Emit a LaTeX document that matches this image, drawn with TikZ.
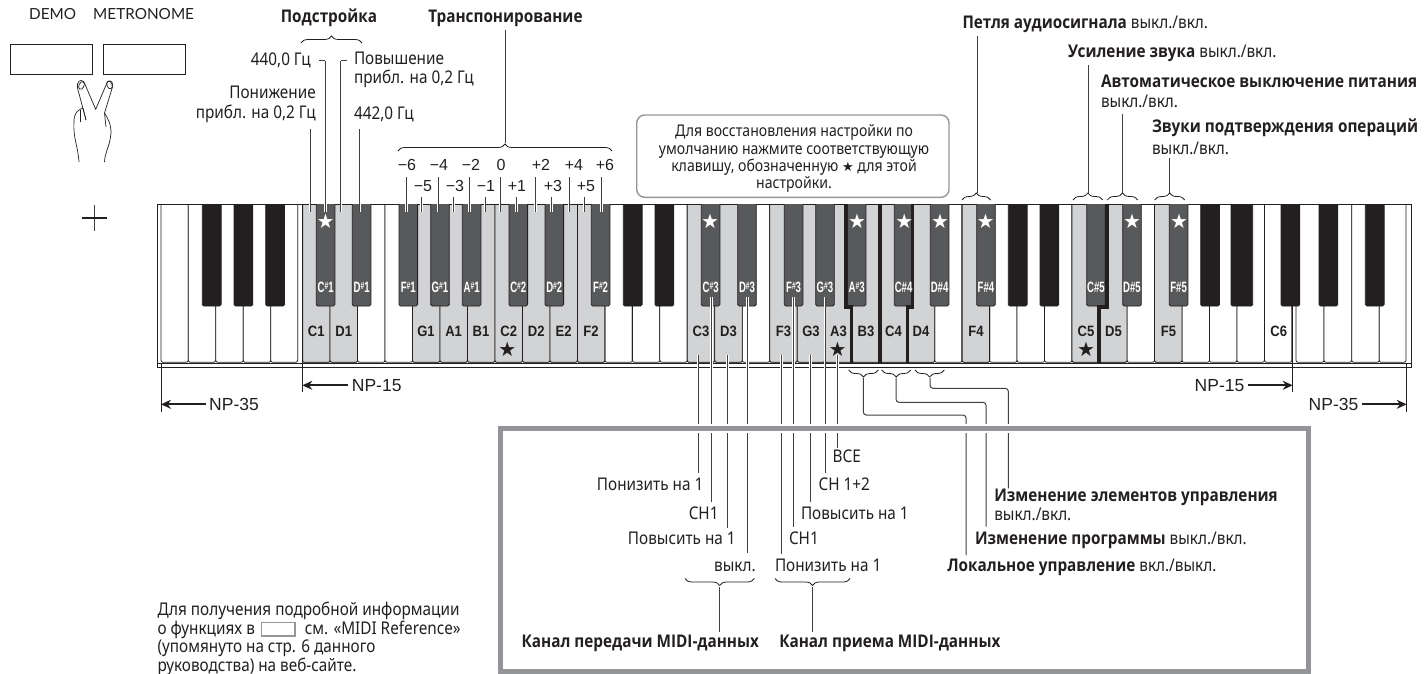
\documentclass[tikz,border=0pt]{standalone}
\usepackage{fontspec}
\usetikzlibrary{arrows.meta,decorations.pathreplacing}
\setmainfont[FakeStretch=0.875]{Noto Sans}
\newfontfamily\opns[FakeStretch=0.875]{Open Sans}
\newcommand{\bd}[1]{{\opns\bfseries #1}}
\newfontfamily\arreg{Liberation Sans}
\newfontfamily\arnar[FakeStretch=0.64]{Liberation Sans}
\newfontfamily\arwhi[FakeStretch=0.87]{Liberation Sans}
\newfontfamily\djv{DejaVu Sans}
\newfontfamily\lat{Lato}
\definecolor{ink}{HTML}{231F20}
\definecolor{lead}{HTML}{404041}
\definecolor{grkey}{HTML}{D1D3D4}
\definecolor{dkkey}{HTML}{58595B}
\definecolor{frm}{HTML}{939598}
\newcommand{\tl}[4]{\node[lab,anchor=base west] (#1) at (#2,#3) {#4};}
\newcommand{\tr}[4]{\node[lab,anchor=base east] (#1) at (#2,#3) {#4};}
\newcommand{\tc}[4]{\node[lab,anchor=base] (#1) at (#2,#3) {#4};}
\newcommand{\lf}[4]{\coordinate (#1a) at (#2,#3); \coordinate (#1b) at (#2,#4); \draw[leader] (#1a) -- (#1b);}
\newcommand{\brU}[4]{\coordinate (#1a) at (#2,#4); \coordinate (#1b) at (#3,#4); \draw[bracestyle] (#1a) -- (#1b);}
\newcommand{\brD}[4]{\coordinate (#1a) at (#3,#4); \coordinate (#1b) at (#2,#4); \draw[bracestyle] (#1a) -- (#1b);}
\newcommand{\shp}[2]{#1\raisebox{2.5pt}{\fontsize{10.5}{10}\selectfont\#}#2}
\tikzset{
  lab/.style={inner sep=0pt,outer sep=0pt,font=\fontsize{17.5}{18}\selectfont,text=ink},
  callab/.style={inner sep=0pt,outer sep=0pt,anchor=base,font=\fontsize{16.1}{17}\selectfont,text=ink},
  leader/.style={draw=lead,line width=1pt,preaction={draw=white,line width=2.6pt}},
  plain/.style={draw=lead,line width=1pt},
  bracestyle/.style={draw=ink,line width=0.8pt,decorate,decoration={brace,amplitude=7pt,aspect=0.5}},
  whitek/.style={draw=ink,line width=0.8pt,fill=white},
  grayk/.style={draw=ink,line width=0.8pt,fill=grkey},
  blackk/.style={draw=ink,line width=0.8pt,fill=ink},
  darkk/.style={draw=ink,line width=0.8pt,fill=dkkey},
  thick key/.style={draw=ink,line width=3.5pt},
  npline/.style={draw=ink,line width=0.9pt},
  nparrow/.style={draw=ink,line width=1.8pt,-{Stealth[length=10pt,width=9pt]}},
  nplab/.style={inner sep=0pt,font=\arreg\fontsize{17.5}{18}\selectfont,text=ink},
  numlab/.style={inner sep=0pt,font=\arreg\fontsize{16}{18}\selectfont,text=ink},
  wlab/.style={inner sep=0pt,font=\arwhi\bfseries\fontsize{15}{15}\selectfont,text=ink},
  blab/.style={inner sep=0pt,font=\arnar\bfseries\fontsize{15}{15}\selectfont,text=white},
  wstar/.style={inner sep=0pt,font=\djv\fontsize{20}{20}\selectfont,text=white},
  kstar/.style={inner sep=0pt,font=\djv\fontsize{20}{20}\selectfont,text=ink},
  boxk/.style={draw=ink,line width=0.9pt},
  hand/.style={draw=ink,line width=0.7pt},
}
\begin{document}
\begin{tikzpicture}[x=1pt,y=-1pt]
\useasboundingbox (0,0) rectangle (1426,674);
% ---------- top-left buttons
\node[inner sep=0pt,font=\lat\fontsize{15.3}{16}\selectfont,text=ink,anchor=base west] (demo) at (29,20) {DEMO};
\node[inner sep=0pt,font=\lat\fontsize{15.3}{16}\selectfont,text=ink,anchor=base west] (metro) at (93,20) {METRONOME};
\draw[boxk] (10.3,44.3) rectangle (92.3,74);
\draw[boxk] (103.3,44.3) rectangle (185.3,74);
% hand
\draw[hand] (86,120) -- (77.5,88) .. controls (76,82) and (81,78) .. (84,82) -- (95.7,109.3) -- (106.5,84) .. controls (108,79) and (113,80) .. (112.8,86) -- (104.5,113) .. controls (110,122) and (112,128) .. (110.5,137) .. controls (109,148) and (105,152) .. (104.5,162);
\draw[hand] (104.5,113) -- (106,127);
\draw[hand] (83,108) .. controls (76,111) and (74,114) .. (74,122) .. controls (73,138) and (78,146) .. (79,162);
\draw[hand] (80,110) -- (80,122);
\draw[hand] (83,108) -- (86,120);
\draw[hand,rotate around={-25:(81.5,85.5)}] (81.5,85.5) ellipse (2.6 and 4);
\draw[hand,rotate around={20:(109.5,85)}] (109.5,85) ellipse (2.6 and 4);
% plus
\coordinate (plt) at (94.3,205); \coordinate (plb) at (94.3,230.7);
\coordinate (pll) at (81.7,217.7); \coordinate (plr) at (107.3,217.7);
\draw[draw=lead,line width=1.6pt] (plt) -- (plb); \draw[draw=ink,line width=1.6pt] (pll) -- (plr);
% ---------- keyboard
\draw[draw=ink,line width=0.9pt,fill=white] (157,204) rectangle (1411,367);
\foreach \l/\r in {161/188.3,188.3/215.7,215.7/243.3,243.3/270.7,270.7/297.7,1296/1324,1324/1351.7,1351.7/1379.3,1379.3/1406}{
  \draw[whitek] (\l,204) [rounded corners=2pt] -- (\l,362.3) -- (\r,362.3) [sharp corners] -- (\r,204);
}
\foreach \n in {0,...,35}{
  \pgfmathsetmacro\l{302.6+27.48*\n}
  \pgfmathsetmacro\r{302.6+27.48*(\n+1)}
  \draw[whitek] (\l,204) [rounded corners=2pt] -- (\l,362.3) -- (\r,362.3) [sharp corners] -- (\r,204);
}
\foreach \n in {0,1,4,5,6,7,8,9,10,14,15,17,18,19,20,21,22,24,28,29,31}{
  \pgfmathsetmacro\l{302.6+27.48*\n}
  \pgfmathsetmacro\r{302.6+27.48*(\n+1)}
  \draw[grayk] (\l,204) [rounded corners=2pt] -- (\l,362.3) -- (\r,362.3) [sharp corners] -- (\r,204);
}
\draw[draw=ink,line width=0.9pt] (157,204) -- (1411,204);
\draw[draw=ink,line width=0.9pt] (157,363.2) -- (1411,363.2);
% black keys
\foreach \x in {202.3,234,265.7,623.3,655,1008.3,1040,1200.7,1281,1319,1365.3}{
  \pgfmathsetmacro\r{\x+18.8}
  \draw[blackk] (\x,204) [rounded corners=1.5pt] -- (\x,306) -- (\r,306) [sharp corners] -- (\r,204);
}
\draw[blackk] (1231,204) [rounded corners=1.5pt] -- (1231,306) -- (1252.7,306) [sharp corners] -- (1252.7,204);
\foreach \x in {316.3,352.3,399,430.7,462.3,509,545,591.3,701.3,737.7,784.3,815.7,847.3,894.3,930.3,976.7,1086.7,1122.7,1169.3}{
  \pgfmathsetmacro\r{\x+18.6}
  \draw[darkk] (\x,204) [rounded corners=1.5pt] -- (\x,306) -- (\r,306) [sharp corners] -- (\r,204);
}
% thick separators
\draw[thick key] (846.2,204) -- (846.2,307) -- (851.7,307) -- (851.7,362.5);
\draw[thick key] (880.2,204) -- (880.2,362.5);
\draw[thick key] (912.3,204) -- (912.3,307) -- (907.5,307) -- (907.5,362.5);
\draw[thick key] (1107,204) -- (1107,307) -- (1099.2,307) -- (1099.2,362.5);
% ---------- NP marks
\coordinate (np15la) at (302.3,204); \coordinate (np15lb) at (302.3,392);
\draw[npline] (np15la) -- (np15lb);
\coordinate (np35la) at (161,363); \coordinate (np35lb) at (161,412);
\draw[npline] (np35la) -- (np35lb);
\coordinate (np15ra) at (1292.7,306); \coordinate (np15rb) at (1292.7,392);
\draw[npline] (np15ra) -- (np15rb);
\coordinate (np35ra) at (1406.7,363); \coordinate (np35rb) at (1406.7,412);
\draw[npline] (np35ra) -- (np35rb);
\node[nplab,anchor=west] (t15l) at (351.7,385.3) {NP-15};
\node[nplab,anchor=west] (t35l) at (209,404.3) {NP-35};
\node[nplab,anchor=east] (t15r) at (1244.5,385.3) {NP-15};
\node[nplab,anchor=east] (t35r) at (1358.5,404.3) {NP-35};
\draw[nparrow] (t15l.west) ++(-4,0) coordinate (a1) -- (a1 -| np15la);
\draw[nparrow] (t35l.west) ++(-3,0) coordinate (a2) -- (a2 -| np35la);
\draw[nparrow] (t15r.east) ++(3.5,0) coordinate (a3) -- (a3 -| np15ra);
\draw[nparrow] (t35r.east) ++(3.5,0) coordinate (a4) -- (a4 -| np35ra);
% ---------- leaders into the keys
\lf{tuA}{310}{129}{212}
\lf{tuB}{325.3}{61}{212}
\lf{tuC}{340.8}{61}{212}
\lf{tuD}{359.8}{129}{212}
\coordinate (tuBt) at (319,61); \draw[plain] (tuBt) -- (tuBa);
\coordinate (tuCt) at (347,61); \draw[plain] (tuCt) -- (tuCa);
\foreach \nm/\x in {m6/406.7,m4/438,m2/469.3,z0/500,p2/535.7,p4/569,p6/601.7}{\lf{\nm}{\x}{177}{212}}
\foreach \nm/\x in {m5/421.7,m3/453.7,m1/485,p1/516.7,p3/551.7,p5/584}{\lf{\nm}{\x}{197}{212}}
\lf{trT}{505}{30}{143}
\lf{lpT}{977}{36}{193}
\lf{usT}{1088}{65}{193}
\lf{apT}{1122}{114}{193}
\lf{znT}{1169.7}{158}{193}
% ---------- lower leaders
\lf{lA}{698}{355}{472.7}
\lf{lB}{711.7}{296.7}{502.3}
\lf{lC}{727.3}{355}{528}
\lf{lD}{747.3}{296.7}{553}
\lf{lE}{781.7}{355}{554}
\lf{lF}{793.3}{296.7}{526.7}
\lf{lG}{810.7}{355}{502.3}
\lf{lH}{825}{296.7}{472.7}
\lf{lI}{837.7}{355}{448.3}
\coordinate (b1t) at (863.3,378); \coordinate (b2t) at (896,378); \coordinate (b3t) at (930,378);
\coordinate (b1e) at (966,555); \coordinate (b2e) at (986,526.7); \coordinate (b3e) at (1008.3,488.3);
\draw[plain,rounded corners=3pt] (b3t) -- (930,388.3) -- (1008.3,388.3) -- (b3e);
\draw[plain,rounded corners=3pt] (b2t) -- (896,402.3) -- (986,402.3) -- (b2e);
\draw[plain,rounded corners=3pt] (b1t) -- (863.3,415) -- (966,415) -- (b1e);
\lf{txL}{719.3}{587}{631.7}
\lf{rxL}{812.7}{587}{631.7}
% frame, with the white gap it cuts through the leaders
\draw[draw=white,line width=9pt] (500,428.5) rectangle (1308.5,671);
\draw[draw=frm,line width=5pt] (500,428.5) rectangle (1308.5,671);
% ---------- braces
\brU{brTu}{301}{362}{43}
\brU{brTr}{398}{612}{151}
\brU{brLp}{962}{990.5}{200}
\brU{brUs}{1073}{1102.7}{200}
\brU{brAp}{1107.3}{1137.7}{200}
\brU{brZn}{1154.7}{1184.7}{200}
\brD{brB3}{848.7}{878.3}{370}
\brD{brC4}{881.7}{910.7}{370}
\brD{brD4}{915}{944.3}{370}
\brD{brTx}{685}{754.3}{578.5}
\brD{brRx}{775}{850}{578.5}
% ---------- key labels
\foreach \nm/\t/\x in {c1/C1/316.3,d1/D1/343.8,g1/G1/426,a1/A1/453.6,b1/B1/481,c2/C2/508.7,d2/D2/536.2,e2/E2/563.7,f2/F2/591,c3/C3/701,d3/D3/728.5,f3/F3/783.5,g3/G3/811,a3/A3/838.5,b3/B3/866,c4/C4/893.5,d4/D4/921,f4/F4/976,c5/C5/1086,d5/D5/1113.5,f5/F5/1168.5,c6/C6/1278.7}{
  \node[wlab] (w\nm) at (\x,331.5) {\t};
}
\foreach \nm/\a/\o/\x in {cs1/C/1/325.6,ds1/D/1/361.6,fs1/F/1/408.3,gs1/G/1/440,as1/A/1/471.6,cs2/C/2/518.3,ds2/D/2/554.3,fs2/F/2/600.6,cs3/C/3/710.6,ds3/D/3/747,fs3/F/3/793.6,gs3/G/3/825,as3/A/3/856.6}{
  \node[blab] (k\nm) at (\x,287) {\shp{\a}{\o}};
}
\foreach \nm/\t/\x in {cs4/C\#4/903.6,ds4/D\#4/939.6,fs4/F\#4/986,cs5/C\#5/1096,ds5/D\#5/1132,fs5/F\#5/1178.6}{
  \node[blab] (k\nm) at (\x,287) {\t};
}
\foreach \nm/\x in {a/325.6,b/710,c/857,d/904.3,e/940,f/985.7,g/1132,h/1179}{
  \node[wstar] (ws\nm) at (\x,221) {★};
}
\foreach \nm/\x in {a/507.3,b/837.7,c/1086}{
  \node[kstar] (ks\nm) at (\x,349) {★};
}
% ---------- number labels
\foreach \nm/\t/\x in {nm6/−6/407,nm4/−4/439,nm2/−2/471,n0/0/501,np2/+2/541,np4/+4/574,np6/+6/605}{
  \node[numlab] (\nm) at (\x,165) {\t};
}
\foreach \nm/\t/\x in {nm5/−5/423,nm3/−3/455,nm1/−1/486,np1/+1/517,np3/+3/553,np5/+5/586}{
  \node[numlab] (\nm) at (\x,186) {\t};
}
% ---------- top texts
\tc{tTu}{329}{23}{\bd{Подстройка}}
\tc{tTr}{505.5}{23}{\bd{Транспонирование}}
\tr{t440}{310.7}{66}{440,0 Гц}
\tr{tDn1}{315.7}{99}{Понижение}
\tr{tDn2}{315.7}{118}{прибл. на 0,2 Гц}
\tl{tUp1}{354}{65}{Повышение}
\tl{tUp2}{354}{84}{прибл. на 0,2 Гц}
\tl{t442}{354}{120}{442,0 Гц}
\tr{tLp}{1208}{29}{\bd{Петля аудиосигнала} выкл./вкл.}
\tl{tUs}{1068}{57.5}{\bd{Усиление звука} выкл./вкл.}
\tl{tAp1}{1101}{87.5}{\bd{Автоматическое выключение питания}}
\tl{tAp2}{1101}{107.5}{выкл./вкл.}
\tl{tZn1}{1152}{132.5}{\bd{Звуки подтверждения операций}}
\tl{tZn2}{1152}{154}{выкл./вкл.}
% callout
\draw[draw=frm,line width=1.4pt,rounded corners=8pt] (636.7,115) rectangle (949,197.3);
\node[callab] (cb1) at (794,136.5) {Для восстановления настройки по};
\node[callab] (cb2) at (794,154.5) {умолчанию нажмите соответствующую};
\node[callab] (cb3) at (794,171) {клавишу, обозначенную {\djv\fontsize{13}{13}\selectfont ★} для этой};
\node[callab] (cb4) at (794,188.5) {настройки.};
% ---------- bottom texts
\tr{bA}{703.3}{490}{Понизить на 1}
\tc{bB}{703.7}{519}{CH1}
\tr{bC}{735.7}{544}{Повысить на 1}
\tr{bD}{755.7}{571}{выкл.}
\tl{bE}{832.7}{462.5}{ВСЕ}
\tl{bF}{818.7}{490}{CH 1+2}
\tl{bG}{801}{519}{Повысить на 1}
\tl{bH}{789}{544}{CH1}
\tl{bI}{775}{571}{Понизить на 1}
\tr{bJ}{759}{647}{\bd{Канал передачи MIDI-данных}}
\tl{bK}{779.3}{647}{\bd{Канал приема MIDI-данных}}
\tl{bL}{994.3}{501}{\bd{Изменение элементов управления}}
\tl{bM}{994.3}{520}{выкл./вкл.}
\tl{bN}{975}{544}{\bd{Изменение программы} выкл./вкл.}
\tl{bO}{947.3}{571.5}{\bd{Локальное управление} вкл./выкл.}
% note
\tl{nA}{157.5}{615}{Для получения подробной информации}
\tl{nB}{157.5}{634}{о функциях в}
\draw[draw=frm,line width=1.4pt] (261.7,622.7) rectangle (295,636);
\tr{nC}{460.7}{634}{см. «MIDI Reference»}
\tl{nD}{157.5}{652.5}{(упомянуто на стр. 6 данного}
\tl{nE}{157.5}{671.5}{руководства) на веб-сайте.}
\end{tikzpicture}
\end{document}
